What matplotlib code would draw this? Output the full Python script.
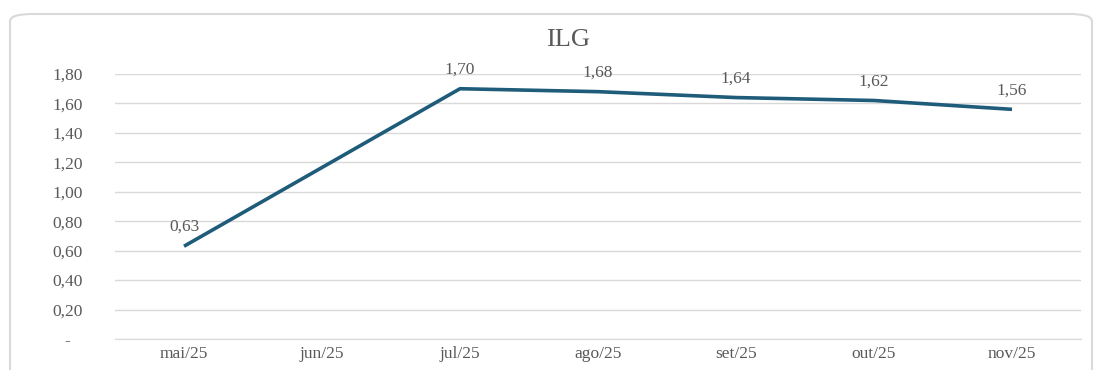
import numpy as np
import matplotlib.pyplot as plt
from matplotlib.patches import FancyBboxPatch
from matplotlib.transforms import ScaledTranslation

# dados do grafico (jun/25 sem valor)
meses = ['mai/25', 'jun/25', 'jul/25', 'ago/25', 'set/25', 'out/25', 'nov/25']
ilg = [0.63, np.nan, 1.70, 1.68, 1.64, 1.62, 1.56]
yticks = [0.0, 0.2, 0.4, 0.6, 0.8, 1.0, 1.2, 1.4, 1.6, 1.8]

plt.rcParams['font.family'] = ['Liberation Serif', 'DejaVu Serif']
COR_TXT = '#595959'
COR_LINHA = '#1F5C7A'
FS = 12.5

fig = plt.figure(figsize=(11.01, 3.70), dpi=100, facecolor='white')

# moldura arredondada do grafico
moldura = FancyBboxPatch((10 / 1101, -0.05), 1082 / 1101, 0.05 + 356 / 370,
                         boxstyle='round,pad=0,rounding_size=0.02',
                         transform=fig.transFigure, facecolor='none',
                         edgecolor='#D9D9D9', linewidth=1.5, zorder=-1)
fig.patches.append(moldura)

ax = fig.add_axes([115 / 1101, 31 / 370, 966 / 1101, 265 / 370])
ax.set_facecolor('none')

x = np.arange(len(meses))
y = np.array(ilg, dtype=float)
ok = ~np.isnan(y)
ax.plot(x[ok], y[ok], color=COR_LINHA, linewidth=2.6, solid_capstyle='butt', zorder=3)

for xi, yi in zip(x[ok], y[ok]):
    ax.annotate(f'{yi:.2f}'.replace('.', ','), (xi, yi), xytext=(0, 8),
                textcoords='offset points', ha='center', va='bottom',
                fontsize=FS, color=COR_TXT, zorder=4)

ax.set_xlim(-0.5, len(meses) - 0.5)
ax.set_ylim(0, 1.8)
ax.set_xticks(x)
ax.set_xticklabels(meses, fontsize=FS, color=COR_TXT)
ax.set_yticks(yticks)
ax.set_yticklabels(['-'] + [f'{v:.2f}'.replace('.', ',') for v in yticks[1:]],
                   fontsize=FS, color=COR_TXT)
ax.tick_params(axis='both', length=0)
ax.tick_params(axis='y', pad=23)
ax.tick_params(axis='x', pad=5)
# o traco do zero fica mais a esquerda (formato contabil)
lbl0 = ax.get_yticklabels()[0]
lbl0.set_transform(lbl0.get_transform() + ScaledTranslation(-0.13, 0, fig.dpi_scale_trans))

ax.grid(axis='y', color='#D9D9D9', linewidth=1)
ax.set_axisbelow(True)
for s in ['top', 'right', 'left']:
    ax.spines[s].set_visible(False)
ax.spines['bottom'].set_color('#D9D9D9')

fig.text(568 / 1101, 330 / 370, 'ILG', ha='center', va='center',
         fontsize=19, color=COR_TXT)

fig.savefig('out.png', dpi=100)
